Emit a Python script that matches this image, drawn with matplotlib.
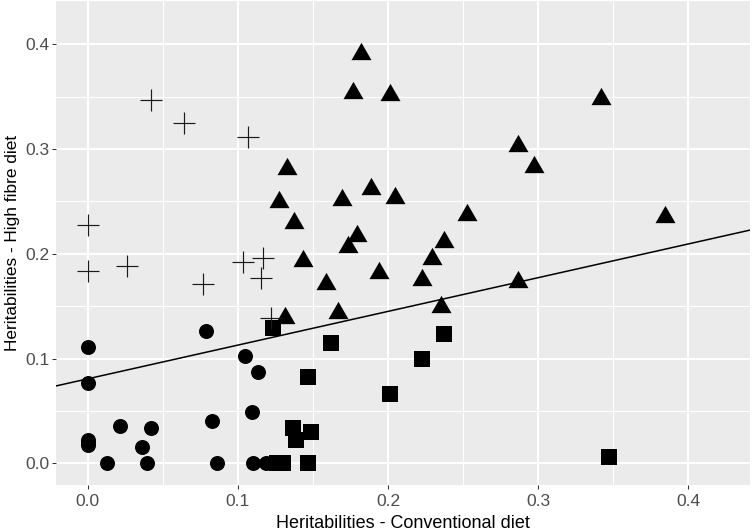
import numpy as np
import matplotlib.pyplot as plt

# heritabilities: conventional diet (x) vs high fibre diet (y), by group
circle_x = [0.0, 0.0, 0.0786, 0.1047, 0.1136, 0.1092, 0.083, 0.0215, 0.0421, 0.036,
            0.0, 0.0, 0.0, 0.0127, 0.0397, 0.0863, 0.1103, 0.1187]
circle_y = [0.1113, 0.077, 0.1263, 0.1024, 0.0875, 0.0493, 0.0407, 0.0356, 0.034, 0.0153,
            0.0225, 0.020, 0.0178, 0.0, 0.0, 0.0, 0.0, 0.0]

square_x = [0.1232, 0.1618, 0.1465, 0.2013, 0.2375, 0.2228, 0.347, 0.1365, 0.1487,
            0.1391, 0.1258, 0.1302, 0.1469]
square_y = [0.1289, 0.1152, 0.0821, 0.0659, 0.1238, 0.0993, 0.006, 0.034, 0.0302,
            0.0223, 0.0, 0.0, 0.0]

triangle_x = [0.182, 0.1764, 0.2015, 0.342, 0.2865, 0.2969, 0.1325, 0.1276, 0.1374,
              0.1691, 0.189, 0.205, 0.2529, 0.3845, 0.1795, 0.2375, 0.1735, 0.229,
              0.1436, 0.1942, 0.2224, 0.1587, 0.2864, 0.2353, 0.1664, 0.1314]
triangle_y = [0.394, 0.356, 0.3545, 0.351, 0.3058, 0.286, 0.2838, 0.252, 0.2323,
              0.254, 0.2647, 0.256, 0.2396, 0.2377, 0.2196, 0.2141, 0.209, 0.1976,
              0.1963, 0.1845, 0.178, 0.174, 0.1763, 0.1524, 0.1464, 0.1416]

plus_x = [0.042, 0.0642, 0.1065, 0.0, 0.0, 0.0264, 0.0769, 0.1036, 0.1165, 0.1152, 0.1218]
plus_y = [0.3466, 0.325, 0.3115, 0.227, 0.1836, 0.1884, 0.1715, 0.1925, 0.1957, 0.1766, 0.1384]

line_intercept = 0.0806
line_slope = 0.322

ticks = [0.0, 0.1, 0.2, 0.3, 0.4]
minor = [0.05, 0.15, 0.25, 0.35]

plt.rcParams['font.family'] = ['Liberation Sans', 'DejaVu Sans']

W, H = 752, 531
fig = plt.figure(figsize=(W / 100, H / 100), dpi=100)
ax = fig.add_axes([56 / W, 1 - 485.3 / H, 694 / W, 484 / H])
ax.set_facecolor('#EBEBEB')
for s in ax.spines.values():
    s.set_visible(False)

ax.set_xlim(-0.021, 0.441)
ax.set_ylim(-0.021, 0.441)
ax.set_xticks(ticks)
ax.set_yticks(ticks)
ax.set_xticks(minor, minor=True)
ax.set_yticks(minor, minor=True)
ax.set_xticklabels([f'{t:.1f}' for t in ticks])
ax.set_yticklabels([f'{t:.1f}' for t in ticks])
ax.grid(which='major', color='white', lw=1.45)
ax.grid(which='minor', color='white', lw=0.72)
ax.set_axisbelow(True)
ax.tick_params(which='major', length=2.75, width=0.75, color='#333333',
               labelcolor='#4D4D4D', labelsize=12.5, pad=2)
ax.tick_params(axis='x', which='major', pad=3.5)
ax.tick_params(which='minor', length=0)

tri = [(-1, -0.866), (1, -0.866), (0, 0.866)]
ax.plot(circle_x, circle_y, 'o', ms=10.8, color='black', mew=0, clip_on=False)
ax.plot(square_x, square_y, 's', ms=11, color='black', mew=0, clip_on=False)
ax.plot(triangle_x, triangle_y, marker=tri, ls='none', ms=14.4, color='black', mew=0)
ax.plot(plus_x, plus_y, '+', ms=15.8, color='#1a1a1a', mew=0.85)
ax.axline((0, line_intercept), slope=line_slope, color='black', lw=1.1)

fig.text(403 / W, 1 - 528 / H, 'Heritabilities - Conventional diet', ha='center',
         va='baseline', fontsize=13, color='black')
fig.text(13 / W, 1 - 243 / H, 'Heritabilities - High fibre diet', ha='center',
         va='center', rotation=90, fontsize=12.4, color='black')

fig.savefig('out.png', dpi=100)
